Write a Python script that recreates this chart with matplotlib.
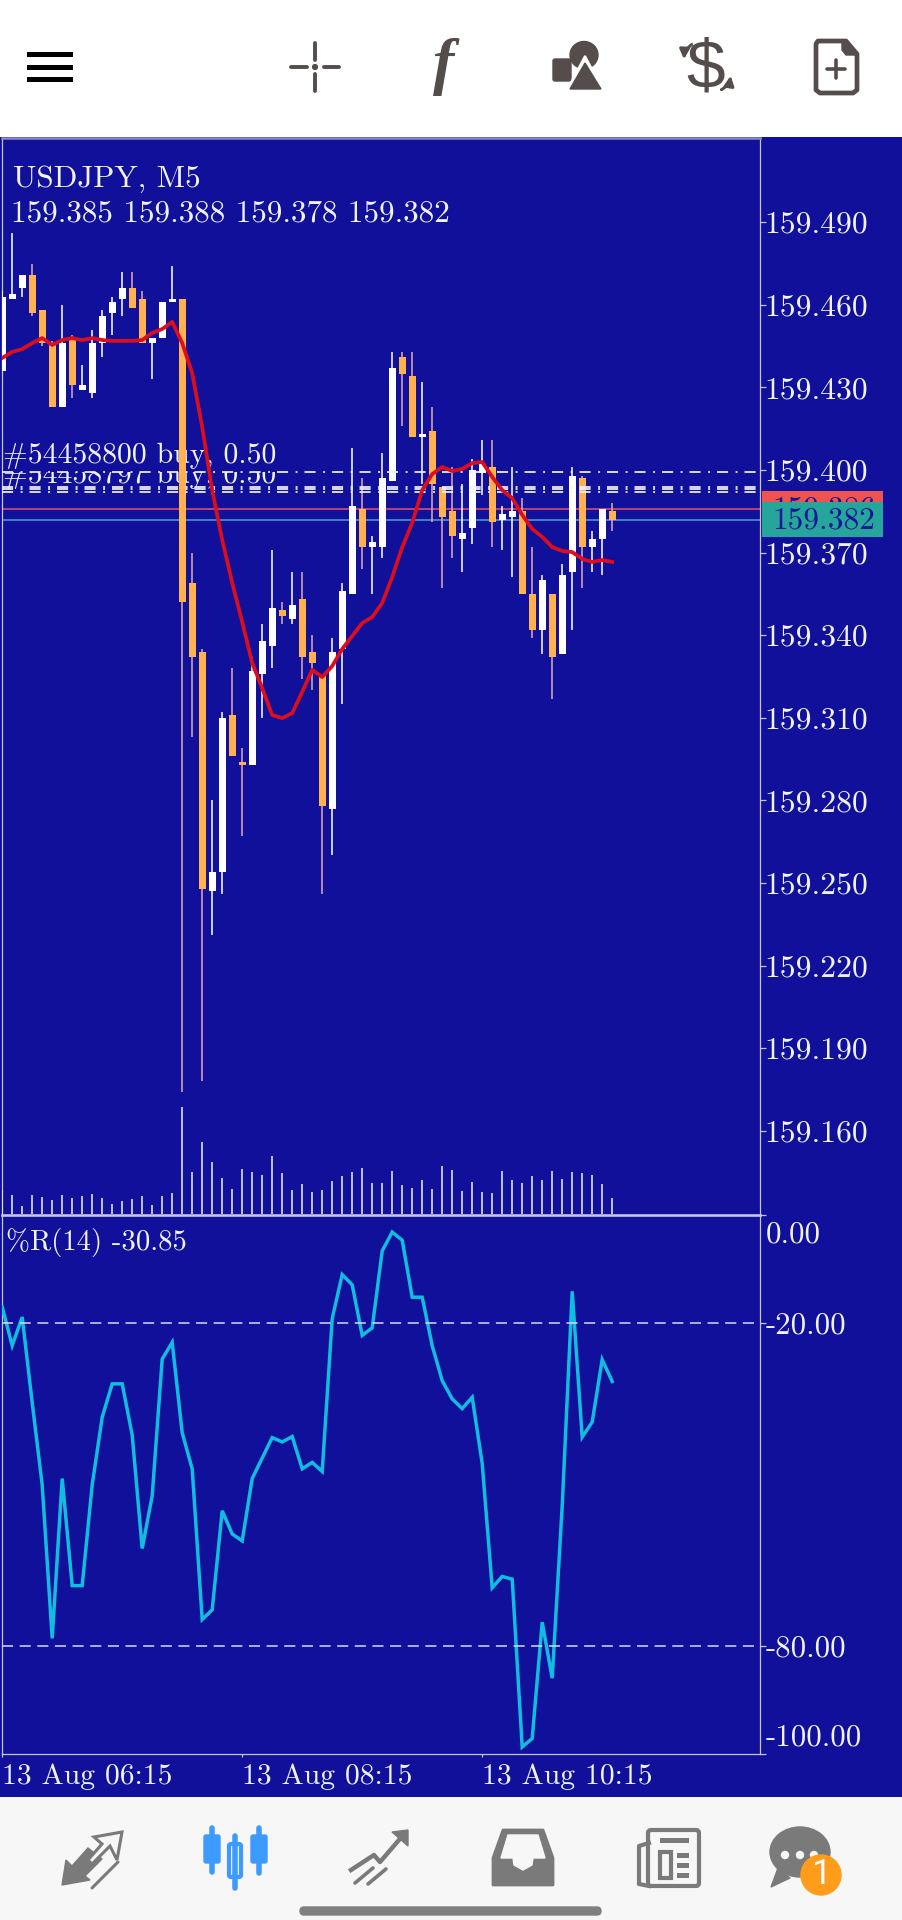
import numpy as np
import matplotlib
matplotlib.use('Agg')
import matplotlib.pyplot as plt
from matplotlib.patches import Rectangle, Circle, Polygon, FancyBboxPatch, Ellipse
from matplotlib.transforms import ScaledTranslation

W, H = 902, 1920
NAVY = '#10109a'
ORANGE = '#ffb24f'
ORANGE_WICK = '#e2aab0'
LIGHT = '#f2f2fa'
FRAME = '#c6c6de'
ICON = '#554c4c'
TAB = '#7a7a7a'
BLUE = '#3d9bff'
FONT = ['cmr10', 'DejaVu Serif']

plt.rcParams['lines.scale_dashes'] = False
plt.rcParams['axes.unicode_minus'] = False
plt.rcParams['font.family'] = FONT

# price data, one candle every 5 minutes
opens = [159.436, 159.462, 159.466, 159.471, 159.458, 159.446, 159.423, 159.448, 159.429, 159.428,
         159.446, 159.457, 159.462, 159.466, 159.462, 159.446, 159.448, 159.461, 159.462, 159.359,
         159.334, 159.247, 159.254, 159.311, 159.294, 159.293, 159.326, 159.336, 159.349, 159.346,
         159.353, 159.334, 159.325, 159.277, 159.335, 159.355, 159.386, 159.372, 159.372, 159.396,
         159.441, 159.434, 159.412, 159.414, 159.394, 159.385, 159.375, 159.379, 159.399, 159.401,
         159.382, 159.383, 159.385, 159.355, 159.342, 159.355, 159.333, 159.363, 159.397, 159.372,
         159.375, 159.385]
highs = [159.465, 159.486, 159.471, 159.475, 159.458, 159.447, 159.460, 159.449, 159.438, 159.451,
         159.458, 159.463, 159.472, 159.472, 159.465, 159.448, 159.461, 159.474, 159.462, 159.370,
         159.335, 159.280, 159.312, 159.328, 159.299, 159.332, 159.344, 159.371, 159.352, 159.363,
         159.363, 159.340, 159.325, 159.339, 159.359, 159.408, 159.397, 159.376, 159.406, 159.443,
         159.443, 159.443, 159.432, 159.423, 159.394, 159.401, 159.395, 159.404, 159.411, 159.411,
         159.387, 159.401, 159.390, 159.372, 159.362, 159.355, 159.366, 159.401, 159.398, 159.378,
         159.386, 159.388]
lows = [159.436, 159.462, 159.463, 159.456, 159.445, 159.423, 159.423, 159.426, 159.429, 159.426,
        159.441, 159.449, 159.456, 159.459, 159.446, 159.433, 159.448, 159.461, 159.174, 159.303,
        159.178, 159.231, 159.246, 159.296, 159.267, 159.293, 159.310, 159.328, 159.344, 159.344,
        159.324, 159.320, 159.246, 159.260, 159.315, 159.355, 159.364, 159.355, 159.368, 159.396,
        159.416, 159.412, 159.395, 159.381, 159.357, 159.368, 159.363, 159.373, 159.391, 159.372,
        159.371, 159.361, 159.355, 159.339, 159.333, 159.317, 159.333, 159.342, 159.357, 159.363,
        159.362, 159.378]
closes = [159.463, 159.464, 159.471, 159.457, 159.446, 159.423, 159.446, 159.431, 159.431, 159.446,
          159.456, 159.461, 159.466, 159.459, 159.446, 159.448, 159.461, 159.462, 159.352, 159.332,
          159.248, 159.254, 159.310, 159.296, 159.293, 159.327, 159.338, 159.350, 159.347, 159.351,
          159.332, 159.330, 159.278, 159.334, 159.356, 159.387, 159.372, 159.374, 159.397, 159.437,
          159.435, 159.412, 159.413, 159.395, 159.383, 159.376, 159.377, 159.400, 159.402, 159.381,
          159.384, 159.385, 159.355, 159.342, 159.360, 159.332, 159.362, 159.398, 159.372, 159.375,
          159.386, 159.382]
ma_line = [159.4407, 159.4429, 159.4439, 159.4461, 159.4479, 159.4454, 159.4472, 159.4479, 159.4472, 159.4479,
           159.4472, 159.4469, 159.4469, 159.4469, 159.4472, 159.4498, 159.4512, 159.4538, 159.4461, 159.4352,
           159.4156, 159.3927, 159.3746, 159.3590, 159.3448, 159.3299, 159.3208, 159.3110, 159.3099, 159.3117,
           159.3194, 159.3274, 159.3248, 159.3288, 159.3350, 159.3397, 159.3444, 159.3466, 159.3517, 159.3611,
           159.3720, 159.3808, 159.3927, 159.3985, 159.4011, 159.3996, 159.4004, 159.4025, 159.4029, 159.3975,
           159.3927, 159.3898, 159.3837, 159.3786, 159.3757, 159.3720, 159.3706, 159.3702, 159.3677, 159.3666,
           159.3673, 159.3666]
volumes = [24, 19, 8, 19, 17, 14, 19, 16, 18, 20, 16, 10, 13, 15, 18, 9, 18, 21, 107, 42,
           72, 52, 36, 25, 45, 42, 39, 58, 41, 24, 30, 22, 24, 33, 38, 42, 46, 31, 31, 43,
           29, 26, 34, 25, 48, 44, 23, 32, 22, 21, 43, 34, 31, 38, 34, 43, 35, 42, 41, 39,
           30, 16]
williams_r = [-17.0, -24.2, -18.9, -34.8, -50.1, -78.6, -48.9, -68.8, -68.8, -50.1,
              -37.5, -31.3, -31.3, -40.8, -61.9, -52.1, -26.7, -23.6, -40.4, -47.1,
              -75.1, -73.3, -54.9, -59.2, -60.5, -48.9, -45.1, -41.3, -42.1, -41.1,
              -47.1, -45.9, -47.6, -19.2, -11.0, -12.9, -22.3, -20.9, -6.6, -3.1,
              -4.6, -15.2, -15.2, -24.2, -30.7, -34.1, -35.9, -33.8, -46.1, -69.2,
              -67.1, -67.6, -98.8, -97.2, -75.6, -86.0, -54.0, -14.1, -41.2, -38.4,
              -26.8, -30.85]

price_ticks = [159.160, 159.190, 159.220, 159.250, 159.280, 159.310, 159.340, 159.370, 159.400, 159.430, 159.460, 159.490]
r_ticks = [0, -20, -80, -100]
order_levels = [159.3993, 159.3939, 159.3930, 159.3920]
bid, ask = 159.382, 159.386
time_ticks = [0, 24, 48]
time_labels = ['13 Aug 06:15', '13 Aug 08:15', '13 Aug 10:15']
order_labels = ['#54458800 buy, 0.50', '#54458797 buy, 0.50']


def axes_px(x0, y0, x1, y1):
    """axes placed by screen pixels, y counted from the top"""
    ax = fig.add_axes([x0 / W, 1 - y1 / H, (x1 - x0) / W, (y1 - y0) / H])
    ax.patch.set_alpha(0)
    return ax


def box(x, y, w, h, color, **kw):
    page.add_patch(Rectangle((x, y), w, h, facecolor=color, edgecolor='none', **kw))


def segs(pts, color, lw=3.0):
    for a, b, c, d in pts:
        page.plot([a, c], [b, d], color=color, lw=lw, solid_capstyle='round')


fig = plt.figure(figsize=(W / 100, H / 100), dpi=100, facecolor='white')

page = fig.add_axes([0, 0, 1, 1])
page.set_xlim(0, W)
page.set_ylim(H, 0)
page.axis('off')
box(0, 137, W, 1660, NAVY)
box(0, 1797, W, 123, '#f7f7f7')

idx = np.arange(len(opens))
o, h, l, c = map(np.array, (opens, highs, lows, closes))
up = c >= o
xlim = (-0.07, 75.73)

# candle pane
ax = axes_px(1.5, 138, 759.5, 1214)
ax.set_xlim(*xlim)
ax.set_ylim(159.4 - (1214 - 470) * 0.03 / 82.6, 159.4 + (470 - 138) * 0.03 / 82.6)
ax.vlines(idx[up], l[up], h[up], color='white', lw=1.1, zorder=3)
ax.vlines(idx[~up], l[~up], h[~up], color=ORANGE_WICK, lw=1.1, zorder=3)
ax.bar(idx[up], (c - o)[up], bottom=o[up], width=0.7, color='white', zorder=4)
ax.bar(idx[~up], (o - c)[~up], bottom=c[~up], width=0.7, color=ORANGE, zorder=4)
ax.plot(idx, ma_line, color='#dc0d1c', lw=2.7, zorder=6, solid_joinstyle='round')

for level in order_levels:
    ax.axhline(level, color=LIGHT, lw=1.25, zorder=5, linestyle=(0, (8, 5.4, 1.4, 5)))
ax.axhline(ask, color='#e0507a', lw=1.1, zorder=2)
ax.axhline(bid, color='#4f9fd0', lw=1.1, zorder=2)

ax.text(3, 463, order_labels[0], transform=page.transData, color=LIGHT, fontsize=21.4, zorder=1, va='baseline')
cut = ax.text(3, 483, order_labels[1], transform=page.transData, color=LIGHT, fontsize=21.4, zorder=1, va='baseline')
cut.set_clip_on(True)
cut.set_clip_path(Rectangle((0, 472), 760, 17, transform=page.transData))
ax.text(13, 187, 'USDJPY, M5', transform=page.transData, color=LIGHT, fontsize=22.4, va='baseline')
ax.text(11, 222, '159.385 159.388 159.378 159.382', transform=page.transData, color=LIGHT, fontsize=22.4, va='baseline')

ax.set_xticks([])
ax.yaxis.tick_right()
ax.set_yticks(price_ticks)
ax.set_yticklabels(['%.3f' % p for p in price_ticks])
ax.tick_params(axis='y', colors=FRAME, length=4.2, width=0.9, pad=-0.4, labelsize=22.7, labelcolor=LIGHT)
ax.spines['top'].set_color('#8a8ac8')
ax.spines['top'].set_linewidth(1.8)
ax.spines['bottom'].set_visible(False)
for side in ('left', 'right'):
    ax.spines[side].set_color(FRAME)
    ax.spines[side].set_linewidth(0.9)

# tick volume at the foot of the candle pane
vol = axes_px(1.5, 1094, 759.5, 1214)
vol.set_xlim(*xlim)
vol.set_ylim(0, 120)
vol.axis('off')
vol.vlines(idx, 0, volumes, color='#f0f0f6', lw=1.1)

# Williams %R pane
rax = axes_px(1.5, 1215.4, 759.5, 1753.5)
rax.set_xlim(*xlim)
rax.set_ylim(-100, 0)
rax.plot(idx, williams_r, color='#10bce0', lw=2.5, solid_joinstyle='miter', zorder=3)
for level in (-20, -80):
    rax.axhline(level, color='#d8d8e6', lw=1.1, linestyle=(0, (8, 4.7)), zorder=4)
rax.yaxis.tick_right()
rax.set_yticks(r_ticks)
rax.set_yticklabels(['%.2f' % v for v in r_ticks])
rax.tick_params(axis='y', colors=FRAME, length=4.2, width=0.9, pad=0.2, labelsize=22.2, labelcolor=LIGHT)
first, last = rax.get_yticklabels()[0], rax.get_yticklabels()[-1]
first.set_va('top')
first.set_transform(first.get_transform() + ScaledTranslation(0, -0.06, fig.dpi_scale_trans))
last.set_va('bottom')
last.set_transform(last.get_transform() + ScaledTranslation(0, 0.02, fig.dpi_scale_trans))
rax.set_xticks(time_ticks)
rax.set_xticklabels(time_labels, ha='left')
rax.tick_params(axis='x', colors=FRAME, length=2, width=0.9, pad=5, labelsize=21.3, labelcolor=LIGHT)
rax.spines['top'].set_color(FRAME)
rax.spines['top'].set_linewidth(1.9)
for side in ('left', 'right', 'bottom'):
    rax.spines[side].set_color(FRAME)
    rax.spines[side].set_linewidth(0.9)

rax.text(6, 1250, '%R(14) -30.85', transform=page.transData, color=LIGHT, fontsize=20.7, va='baseline')

# price boxes on the right scale
over = fig.add_axes([0, 0, 1, 1], sharex=page, sharey=page)
over.axis('off')
over.add_patch(Rectangle((762, 491), 121, 35, facecolor='#ef5350', edgecolor='none', zorder=1))
over.text(772, 510, '%.3f' % ask, color='#14149a', fontsize=22.6, va='center', zorder=2)
over.add_patch(Rectangle((762, 501.7), 121, 35, facecolor='#26a69a', edgecolor='none', zorder=3))
over.text(772, 521, '%.3f' % bid, color='#14149a', fontsize=22.6, va='center', zorder=4)

# top tool bar
for y in (52, 64.5, 77):
    box(27, y, 46, 5, 'black')
segs([(315, 43, 315, 60), (315, 74, 315, 91), (291, 67, 307, 67), (324, 67, 339, 67)], ICON, 2.8)
page.add_patch(Circle((315, 67), 2.4, color=ICON))
page.text(444, 67, 'f', color=ICON, fontsize=46, family='Liberation Serif', style='italic', weight='bold', ha='center', va='center')
page.add_patch(FancyBboxPatch((553, 59), 18, 22, boxstyle='round,pad=0,rounding_size=2', color=ICON))
page.add_patch(Ellipse((584, 55), 28, 27, color=ICON))
page.add_patch(Polygon([(585, 56), (566, 92), (604, 92)], facecolor='white', edgecolor='white', lw=1.5))
page.add_patch(Polygon([(585, 63), (570, 89), (601, 89)], color=ICON))
page.text(706, 70, '$', color=ICON, fontsize=50, family='Liberation Sans', ha='center', va='center')
page.annotate('', xy=(684, 62), xytext=(694, 43), arrowprops=dict(arrowstyle='-|>', connectionstyle='arc3,rad=0.3', color=ICON, lw=2.2, mutation_scale=14))
page.annotate('', xy=(731, 73), xytext=(719, 91), arrowprops=dict(arrowstyle='-|>', connectionstyle='arc3,rad=0.3', color=ICON, lw=2.2, mutation_scale=14))
page.add_patch(Polygon([(818, 41), (846, 41), (857, 54), (857, 90), (853, 93), (820, 93), (816, 90), (816, 44)],
                       facecolor='white', edgecolor=ICON, lw=3.4, joinstyle='round'))
page.add_patch(Polygon([(842, 41), (857, 55), (846, 55), (842, 50)], color=ICON))
segs([(836, 60, 836, 78), (827, 69, 845, 69)], ICON, 2.6)

# bottom tab bar
page.add_patch(Polygon([(62, 1885), (66, 1860), (72, 1866), (88, 1848), (102, 1859), (85, 1876), (90, 1880)], color=TAB))
page.add_patch(Polygon([(122, 1832), (94, 1837), (102, 1844), (88, 1860), (92, 1864), (110, 1846), (117, 1860)],
                       facecolor='#f7f7f7', edgecolor=TAB, lw=2.2))
segs([(118, 1862, 92, 1888)], TAB, 2.2)
for cx, top, bot, wtop, wbot in ((212, 1835, 1863, 1828, 1872), (259, 1835, 1863, 1828, 1873)):
    page.plot([cx, cx], [wtop, wbot], color=BLUE, lw=4, solid_capstyle='round')
    page.add_patch(FancyBboxPatch((cx - 8, top), 16, bot - top, boxstyle='round,pad=0,rounding_size=2', color=BLUE))
page.plot([235, 235], [1836, 1888], color=BLUE, lw=4, solid_capstyle='round')
page.add_patch(FancyBboxPatch((229, 1844), 12, 33, boxstyle='round,pad=0,rounding_size=2', facecolor='#f7f7f7', edgecolor=BLUE, lw=3))
page.plot([351, 374, 380, 405], [1870, 1855, 1862, 1833], color=TAB, lw=3.2)
page.add_patch(Polygon([(392, 1832), (408, 1830), (408, 1846)], color=TAB))
segs([(355, 1883, 373, 1868), (368, 1884, 386, 1869)], TAB, 2.6)
page.add_patch(Polygon([(503, 1830), (543, 1830), (553, 1858), (553, 1885), (493, 1885), (493, 1858)], color=TAB, joinstyle='round', lw=2))
page.add_patch(Polygon([(508, 1835), (538, 1835), (545, 1858), (533, 1858), (532, 1865), (523, 1870), (514, 1865), (513, 1858), (501, 1858)], color='#f7f7f7'))
page.add_patch(FancyBboxPatch((648, 1830), 51, 56, boxstyle='round,pad=0,rounding_size=3', facecolor='#f7f7f7', edgecolor=TAB, lw=3))
page.plot([649, 639, 639, 649], [1843, 1846, 1884, 1886], color=TAB, lw=3)
box(660, 1838, 29, 5, TAB)
page.add_patch(Rectangle((660, 1852), 11, 26, facecolor='none', edgecolor=TAB, lw=3))
for y in (1853, 1863, 1873):
    box(677, y, 12, 5, TAB)
page.add_patch(Ellipse((800, 1852), 60, 50, color=TAB))
page.add_patch(Polygon([(778, 1868), (790, 1878), (771, 1887)], color=TAB))
for cx in (785, 800, 814):
    page.add_patch(Circle((cx, 1855), 3.5, color='#f7f7f7'))
page.add_patch(Circle((821, 1875), 20, color='#ff9d1b', zorder=5))
page.text(821, 1875, '1', color='white', fontsize=25, family='Roboto', ha='center', va='center', zorder=6)
page.add_patch(FancyBboxPatch((300, 1907), 301, 8, boxstyle='round,pad=0,rounding_size=4', color='#808080'))

fig.savefig('out.png', dpi=100, facecolor='white')
